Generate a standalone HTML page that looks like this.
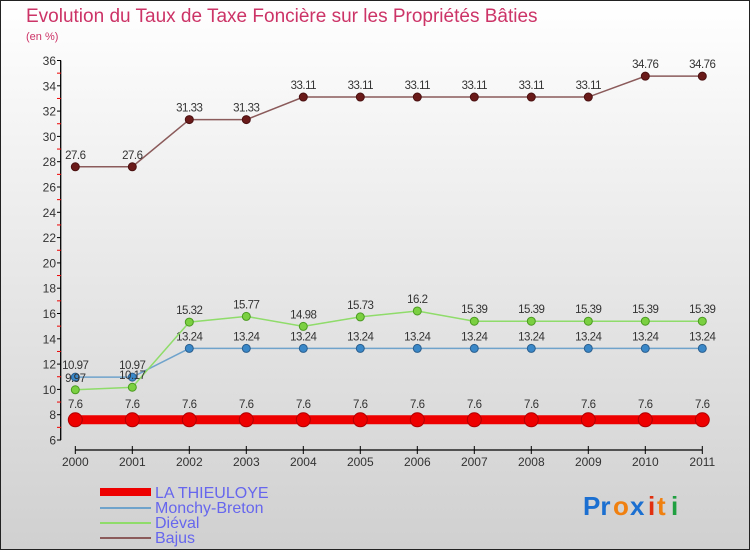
<!DOCTYPE html>
<html><head><meta charset="utf-8"><style>
body{margin:0;}
#c{width:750px;height:550px;position:relative;box-sizing:border-box;border:1px solid #222;background:linear-gradient(#fff 0%,#d0d0d0 100%);font-family:"Liberation Sans","DejaVu Sans",sans-serif;overflow:hidden}
</style></head><body>
<div id="c">
<svg id="s" width="750" height="550" style="position:absolute;left:-1px;top:-1px">
<text x="26" y="22" font-size="19" fill="#cc3366">Evolution du Taux de Taxe Foncière sur les Propriétés Bâties</text>
<text x="26" y="40" font-size="11" fill="#cc3366">(en %)</text>
<g id="ax"></g><g id="ser"></g>
<g>
<rect x="100" y="488" width="51" height="8" fill="#ee0000"/>
<rect x="100" y="507" width="51" height="2" fill="#6fa3cc"/>
<rect x="100" y="522" width="51" height="2" fill="#8fdc6a"/>
<rect x="100" y="537" width="51" height="2" fill="#8b5a5a"/>
<text x="155" y="498" font-size="16" fill="#6666ee">LA THIEULOYE</text>
<text x="155" y="513" font-size="16" fill="#6666ee">Monchy-Breton</text>
<text x="155" y="528" font-size="16" fill="#6666ee">Diéval</text>
<text x="155" y="543" font-size="16" fill="#6666ee">Bajus</text>
</g>
<g font-size="26" font-weight="bold">
<text x="583" y="515" fill="#1a6fd0">Pr</text><text x="613" y="515" fill="#f08010">o</text><text x="630" y="515" fill="#1a6fd0">x</text><text x="648" y="515" fill="#e03010">i</text><text x="657" y="515" fill="#f08010">t</text><text x="671" y="515" fill="#20a040">i</text>
</g>
</svg>
</div>
<script>
const years=[2000,2001,2002,2003,2004,2005,2006,2007,2008,2009,2010,2011];
const thieuloye=[7.6,7.6,7.6,7.6,7.6,7.6,7.6,7.6,7.6,7.6,7.6,7.6];
const monchy=[10.97,10.97,13.24,13.24,13.24,13.24,13.24,13.24,13.24,13.24,13.24,13.24];
const dieval=[9.97,10.17,15.32,15.77,14.98,15.73,16.2,15.39,15.39,15.39,15.39,15.39];
const bajus=[27.6,27.6,31.33,31.33,33.11,33.11,33.11,33.11,33.11,33.11,34.76,34.76];
const yTicks=[6,8,10,12,14,16,18,20,22,24,26,28,30,32,34,36];
const NS="http://www.w3.org/2000/svg";
const X=i=>75.3+i*57, Y=v=>440-(v-6)*12.65;
function mk(t,a,p){const e=document.createElementNS(NS,t);for(const k in a)e.setAttribute(k,a[k]);p.appendChild(e);return e;}
const ax=document.getElementById('ax'),ser=document.getElementById('ser');
const ya=mk('line',{x1:60.7,y1:Y(36),x2:60.7,y2:Y(6),stroke:'#000','stroke-width':1.3},ax);


yTicks.forEach((v,k)=>{
 const t=mk('line',{x1:57,x2:61,y1:Y(v),y2:Y(v),stroke:'#000'},ax);
 
 
 if(k<yTicks.length-1){
 const m=mk('line',{x1:57,x2:61,y1:Y(v+1),y2:Y(v+1),stroke:'#e00'},ax);
 
 
 }
 const l=mk('text',{x:56,y:Y(v)+4.5,'font-size':12,'text-anchor':'end',fill:'#333'},ax);l.textContent=v;
 
 
});
const xa=mk('line',{x1:X(0),x2:X(11),y1:450,y2:450,stroke:'#000','stroke-width':1.3},ax);


years.forEach((yr,i)=>{
 const t=mk('line',{x1:X(i),x2:X(i),y1:446,y2:454,stroke:'#000'},ax);
 
 
 const l=mk('text',{x:X(i),y:466,'font-size':12,'text-anchor':'middle',fill:'#333'},ax);l.textContent=yr;
 
 
});
function series(vals,name,color,lw,r,dot,stroke){
 const g=mk('g',{},ser);
 
 
 const pl=mk('polyline',{points:vals.map((v,i)=>X(i)+','+Y(v)).join(' '),fill:'none',stroke:color,'stroke-width':lw},g);
 
 
 vals.forEach((v,i)=>{
  const c=mk('circle',{cx:X(i),cy:Y(v),r:r,fill:dot,stroke:stroke,'stroke-width':1},g);
  
  
  const l=mk('text',{x:X(i),y:Y(v)-8-(r>5?4:0),'font-size':11.5,'text-anchor':'middle',fill:'#333','letter-spacing':'-0.5'},g);
  l.textContent=String(v);
  
  
 });
}
series(bajus,'bajus','#8b5a5a',1.5,4,'#6b1a1a','#4a1010');
series(monchy,'monchy-breton','#6fa3cc',1.5,4,'#3a88c8','#2a5f8f');
series(dieval,'dieval','#8fdc6a',1.5,4,'#7ad040','#4a9a20');
series(thieuloye,'la-thieuloye','#ee0000',9,7,'#ee0000','#b00000');
</script>
</body></html>
